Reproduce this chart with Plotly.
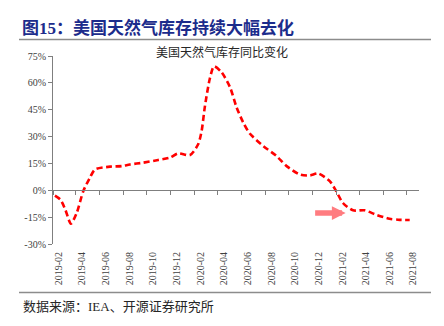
import plotly.graph_objects as go
import pandas as pd

# ---------------- data ----------------
dates = [
    "2019-01-21", "2019-02-04", "2019-02-17", "2019-03-03", "2019-03-18", "2019-04-04",
    "2019-04-21", "2019-05-04", "2019-06-12", "2019-07-12", "2019-08-02", "2019-09-05",
    "2019-10-14", "2019-11-13", "2019-12-04", "2020-01-04", "2020-01-25", "2020-02-03",
    "2020-02-11", "2020-02-24", "2020-03-06", "2020-03-25", "2020-04-16", "2020-05-03",
    "2020-05-20", "2020-06-06", "2020-07-11", "2020-08-14", "2020-09-09", "2020-10-13",
    "2020-11-08", "2020-11-29", "2020-12-29", "2021-01-15", "2021-02-01", "2021-02-27",
    "2021-03-29", "2021-04-28", "2021-06-01", "2021-06-27", "2021-07-23",
]
yoy = [
    -3.0, -5.2, -10.9, -18.7, -12.7, -0.5,
    7.0, 11.6, 13.2, 13.5, 14.4, 15.4,
    16.9, 18.2, 20.6, 19.7, 25.7, 33.2,
    46.3, 62.3, 69.2, 66.0, 57.6, 46.3,
    37.9, 31.7, 24.7, 19.1, 13.5, 8.8,
    8.3, 9.4, 5.1, -0.6, -7.1, -11.2,
    -11.2, -13.7, -15.9, -16.5, -16.6,
]
tick_months = [
    "2019-02", "2019-04", "2019-06", "2019-08", "2019-10", "2019-12",
    "2020-02", "2020-04", "2020-06", "2020-08", "2020-10", "2020-12",
    "2021-02", "2021-04", "2021-06", "2021-08",
]
y_ticks = [-30, -15, 0, 15, 30, 45, 60, 75]
y_tick_text = [f"{v}%" for v in y_ticks]

title_text = "图15：美国天然气库存持续大幅去化"
subtitle_text = "美国天然气库存同比变化"
source_text = "数据来源：IEA、开源证券研究所"

# arrow annotation anchor (data coords)
arrow_tip = ("2021-02-08", -12.7)

# ---------------- layout geometry ----------------
W, H = 444, 326
L, R, T, B = 53, 25, 56, 82
PW, PH = W - L - R, H - T - B


def px(x):
    return (x - L) / PW


def py(y):
    return (H - B - y) / PH


label_vals = [m + "-01" for m in tick_months]
bound_vals = [(pd.Timestamp(v) - pd.Timedelta(days=16)).strftime("%Y-%m-%d") for v in label_vals]
x_range = ["2019-01-16", "2021-08-16"]
y_range = [-30, 75]
zero_pos = (0 - y_range[0]) / (y_range[1] - y_range[0])

fig = go.Figure()
fig.add_trace(go.Scatter(
    x=dates, y=yoy, mode="lines",
    line=dict(color="#FF0000", width=2.6, dash="6px,3.5px", shape="spline", smoothing=0.7),
    showlegend=False, hoverinfo="skip",
))
# invisible trace for the zero-line axis
fig.add_trace(go.Scatter(x=[x_range[0]], y=[0], xaxis="x2", mode="markers",
                         marker=dict(opacity=0), showlegend=False, hoverinfo="skip"))

serif = "Liberation Serif, Noto Sans CJK SC"
tick_font = dict(family="Liberation Serif", size=10, color="#404040")
fig.update_layout(
    width=W, height=H,
    margin=dict(l=L, r=R, t=T, b=B, pad=0),
    paper_bgcolor="white", plot_bgcolor="white",
    font=dict(family=serif, size=10, color="#404040"),
    xaxis=dict(
        type="date", range=x_range,
        tickmode="array", tickvals=label_vals, ticktext=tick_months,
        tickangle=-90, showline=False, showgrid=False, zeroline=False,
        ticks="", ticklabelstandoff=5,
        tickfont=tick_font,
    ),
    xaxis2=dict(
        type="date", range=x_range, overlaying="x", anchor="free", position=zero_pos,
        tickmode="array", tickvals=bound_vals, showticklabels=False,
        showline=True, linecolor="#7F7F7F", linewidth=1,
        ticks="outside", ticklen=4, tickcolor="#7F7F7F", tickwidth=1,
        showgrid=False, zeroline=False,
    ),
    yaxis=dict(
        range=y_range, tickmode="array", tickvals=y_ticks, ticktext=y_tick_text,
        showline=True, linecolor="#7F7F7F", linewidth=1,
        ticks="outside", ticklen=4, tickcolor="#7F7F7F",
        showgrid=False, zeroline=False,
        tickfont=tick_font,
    ),
    shapes=[
        dict(type="line", xref="paper", yref="paper", x0=px(19), x1=px(431), y0=py(39.5), y1=py(39.5),
             line=dict(color="#8C8C8C", width=1.6)),
        dict(type="line", xref="paper", yref="paper", x0=px(19), x1=px(431), y0=py(292.5), y1=py(292.5),
             line=dict(color="#8C8C8C", width=1.6)),
    ],
    annotations=[
        dict(text="<b>" + title_text + "</b>", xref="paper", yref="paper", x=px(20), y=py(28),
             xanchor="left", yanchor="middle", showarrow=False,
             font=dict(family=serif, size=17, color="#1C2C8C")),
        dict(text=subtitle_text, xref="paper", yref="paper", x=px(222), y=py(52.5),
             xanchor="center", yanchor="middle", showarrow=False,
             font=dict(family=serif, size=12, color="#262626")),
        dict(text=source_text, xref="paper", yref="paper", x=px(21), y=py(306),
             xanchor="left", yanchor="middle", showarrow=False,
             font=dict(family=serif, size=13, color="#262626")),
        dict(x=arrow_tip[0], y=arrow_tip[1], xref="x", yref="y", text="",
             showarrow=True, axref="pixel", ayref="pixel", ax=-32, ay=0,
             arrowhead=2, arrowsize=0.5, arrowwidth=5.5, arrowcolor="#FF7C80", standoff=0),
    ],
)

fig.write_html("out.html")
